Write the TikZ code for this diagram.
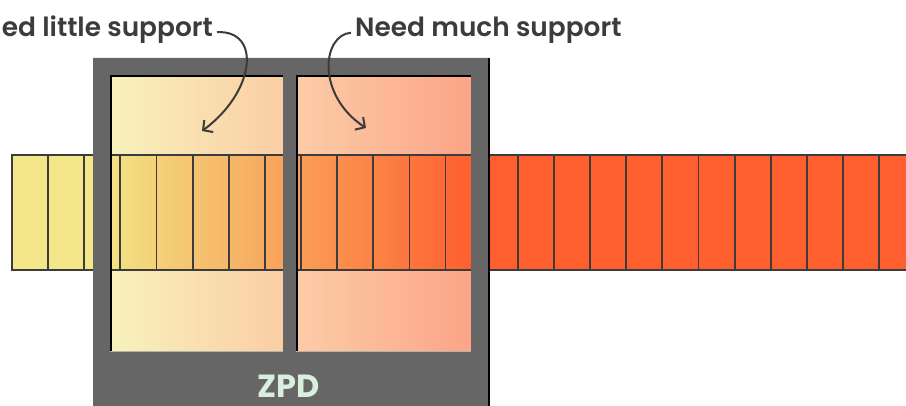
\documentclass[tikz,border=0pt]{standalone}
\usepackage{fontspec}
\setmainfont{Poppins}
\newfontfamily\lbl{Poppins SemiBold}
\usetikzlibrary{arrows.meta}
\definecolor{frame}{HTML}{666666}
\definecolor{txt}{HTML}{3C3C3C}
\definecolor{cyel}{HTML}{F3E78A}
\definecolor{cora}{HTML}{FF5F2E}
\definecolor{zpd}{HTML}{D9EFDD}
\tikzset{
  lab/.style={font=\lbl\fontsize{26.4}{30}\selectfont, text=txt, inner sep=0pt},
  curvearrow/.style={draw=txt, line width=2pt, -{Straight Barb[length=7pt,width=15pt,line width=2pt]}},
  cellline/.style={draw=txt, line width=1.8pt}
}
\begin{document}
\begin{tikzpicture}[x=1pt,y=-1pt]
\useasboundingbox (0,0) rectangle (906,406);
\clip (0,0) rectangle (906,406);
% panels
\shade[left color={rgb,255:red,248;green,242;blue,188}, right color={rgb,255:red,250;green,206;blue,164}] (110,75) rectangle (283,352);
\shade[left color={rgb,255:red,252;green,204;blue,166}, right color={rgb,255:red,252;green,164;blue,136}] (296,75) rectangle (471,352);
% strip
\fill[cyel] (12,155) rectangle (110,270);
\shade[left color={rgb,255:red,242;green,226;blue,132}, middle color={rgb,255:red,249;green,160;blue,80}, right color=cora] (110,155) rectangle (471,270);
\fill[cora] (471,155) rectangle (920,270);
\foreach \k in {1,...,24} {
  \draw[cellline] ({12+36.13*\k},155) -- ({12+36.13*\k},270);
}
\draw[cellline] (920,155) -- (12,155) -- (12,270) -- (920,270);
% frame with holes
\fill[frame, even odd rule] (93,58) rectangle (489,410) (110,75) rectangle (283,352) (296,75) rectangle (471,352);
\draw[black, line width=1.5pt] (489,58) -- (489,410);
% inner shadow edges
\draw[black, line width=2pt] (111,352) -- (111,76) -- (283,76);
\draw[black, line width=2pt] (297,352) -- (297,76) -- (471,76);
\draw[gray!60, line width=1pt] (110,352) -- (283,352) (296,352) -- (471,352);
% labels
\node[lab, anchor=base east] (little) at (213,37) {ed little support};
\node[lab, anchor=base west] (much) at (355,37) {Need much support};
\node[font=\bfseries\fontsize{32}{36}\selectfont, text=zpd, inner sep=0pt, anchor=base] (zpdlab) at (289,397) {ZPD};
\coordinate (tipL) at (202,131);
\coordinate (tipR) at (366,128);
\draw[curvearrow] ([xshift=4pt,yshift=-2pt]little.east) .. controls (262,30) and (255,92) .. (tipL);
\draw[curvearrow] ([xshift=-4pt,yshift=-2pt]much.west) .. controls (322,35) and (316,95) .. (tipR);
\end{tikzpicture}
\end{document}
